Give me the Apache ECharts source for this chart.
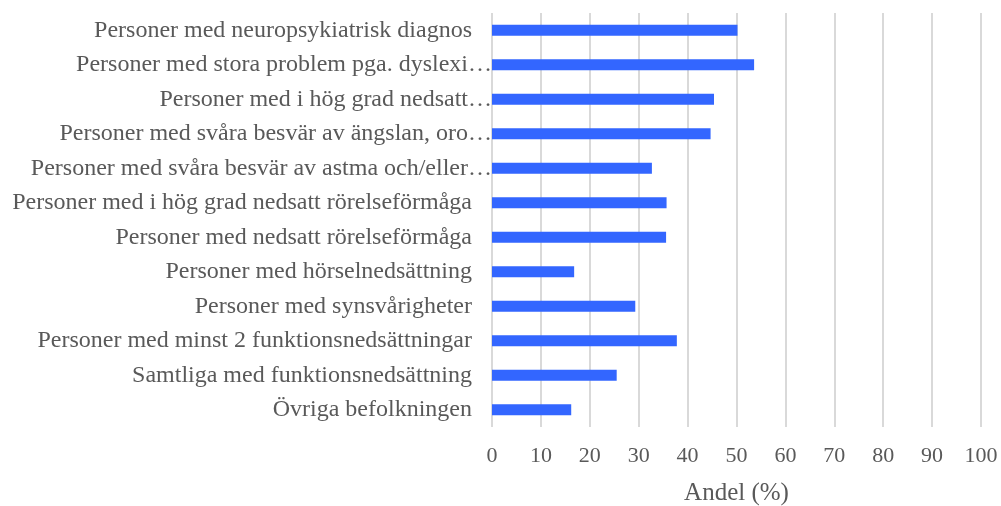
<!DOCTYPE html>
<html>
<head>
<meta charset="utf-8">
<script src="https://cdn.jsdelivr.net/npm/echarts@6/dist/echarts.min.js"></script>
<style>
  html, body { margin: 0; padding: 0; background: #fff; }
  #chart { width: 1001px; height: 506px; }
</style>
</head>
<body>
<div id="chart"></div>
<script>
// kategorier, uppifrån och ned som i originalet
var categories = [
    'Personer med neuropsykiatrisk diagnos',
    'Personer med stora problem pga. dyslexi…',
    'Personer med i hög grad nedsatt…',
    'Personer med svåra besvär av ängslan, oro…',
    'Personer med svåra besvär av astma och/eller…',
    'Personer med i hög grad nedsatt rörelseförmåga',
    'Personer med nedsatt rörelseförmåga',
    'Personer med hörselnedsättning',
    'Personer med synsvårigheter',
    'Personer med minst 2 funktionsnedsättningar',
    'Samtliga med funktionsnedsättning',
    'Övriga befolkningen'
];
var values = [50.2, 53.6, 45.4, 44.7, 32.7, 35.7, 35.6, 16.8, 29.3, 37.8, 25.5, 16.2];
var xTicks = [0, 10, 20, 30, 40, 50, 60, 70, 80, 90, 100];

var myChart = echarts.init(document.getElementById('chart'));

var font = '"Liberation Serif", "Times New Roman", serif';
var textColor = '#595959';

option = {
    backgroundColor: '#ffffff',
    animation: false,
    grid: {
        left: 492,
        right: 20,
        top: 13,
        bottom: 79,
        containLabel: false,
        outerBoundsMode: 'none'
    },
    xAxis: {
        type: 'value',
        min: xTicks[0],
        max: xTicks[xTicks.length - 1],
        interval: 10,
        name: 'Andel (%)',
        nameLocation: 'middle',
        nameGap: 54,
        nameTextStyle: {
            fontFamily: font,
            fontSize: 25,
            color: textColor
        },
        axisLine: { show: false },
        axisTick: { show: false },
        axisLabel: {
            margin: 18,
            fontFamily: font,
            fontSize: 22,
            color: textColor
        },
        splitLine: {
            show: true,
            lineStyle: { color: '#d9d9d9', width: 2 }
        }
    },
    yAxis: {
        type: 'category',
        inverse: true,
        data: categories,
        axisLine: { show: false },
        axisTick: { show: false },
        axisLabel: {
            margin: 0,
            fontFamily: font,
            fontSize: 24,
            color: textColor,
            formatter: function (v) {
                // avkortade etiketter går ända fram till axeln
                if (v.charAt(v.length - 1) === '…') {
                    return v;
                }
                return '{n|' + v + '}';
            },
            rich: {
                n: {
                    fontFamily: font,
                    fontSize: 24,
                    color: textColor,
                    padding: [0, 20, 0, 0]
                }
            }
        }
    },
    series: [{
        name: 'Andel',
        type: 'bar',
        data: values,
        barWidth: 11,
        itemStyle: { color: '#3366ff' }
    }]
};

myChart.setOption(option);
</script>
</body>
</html>
